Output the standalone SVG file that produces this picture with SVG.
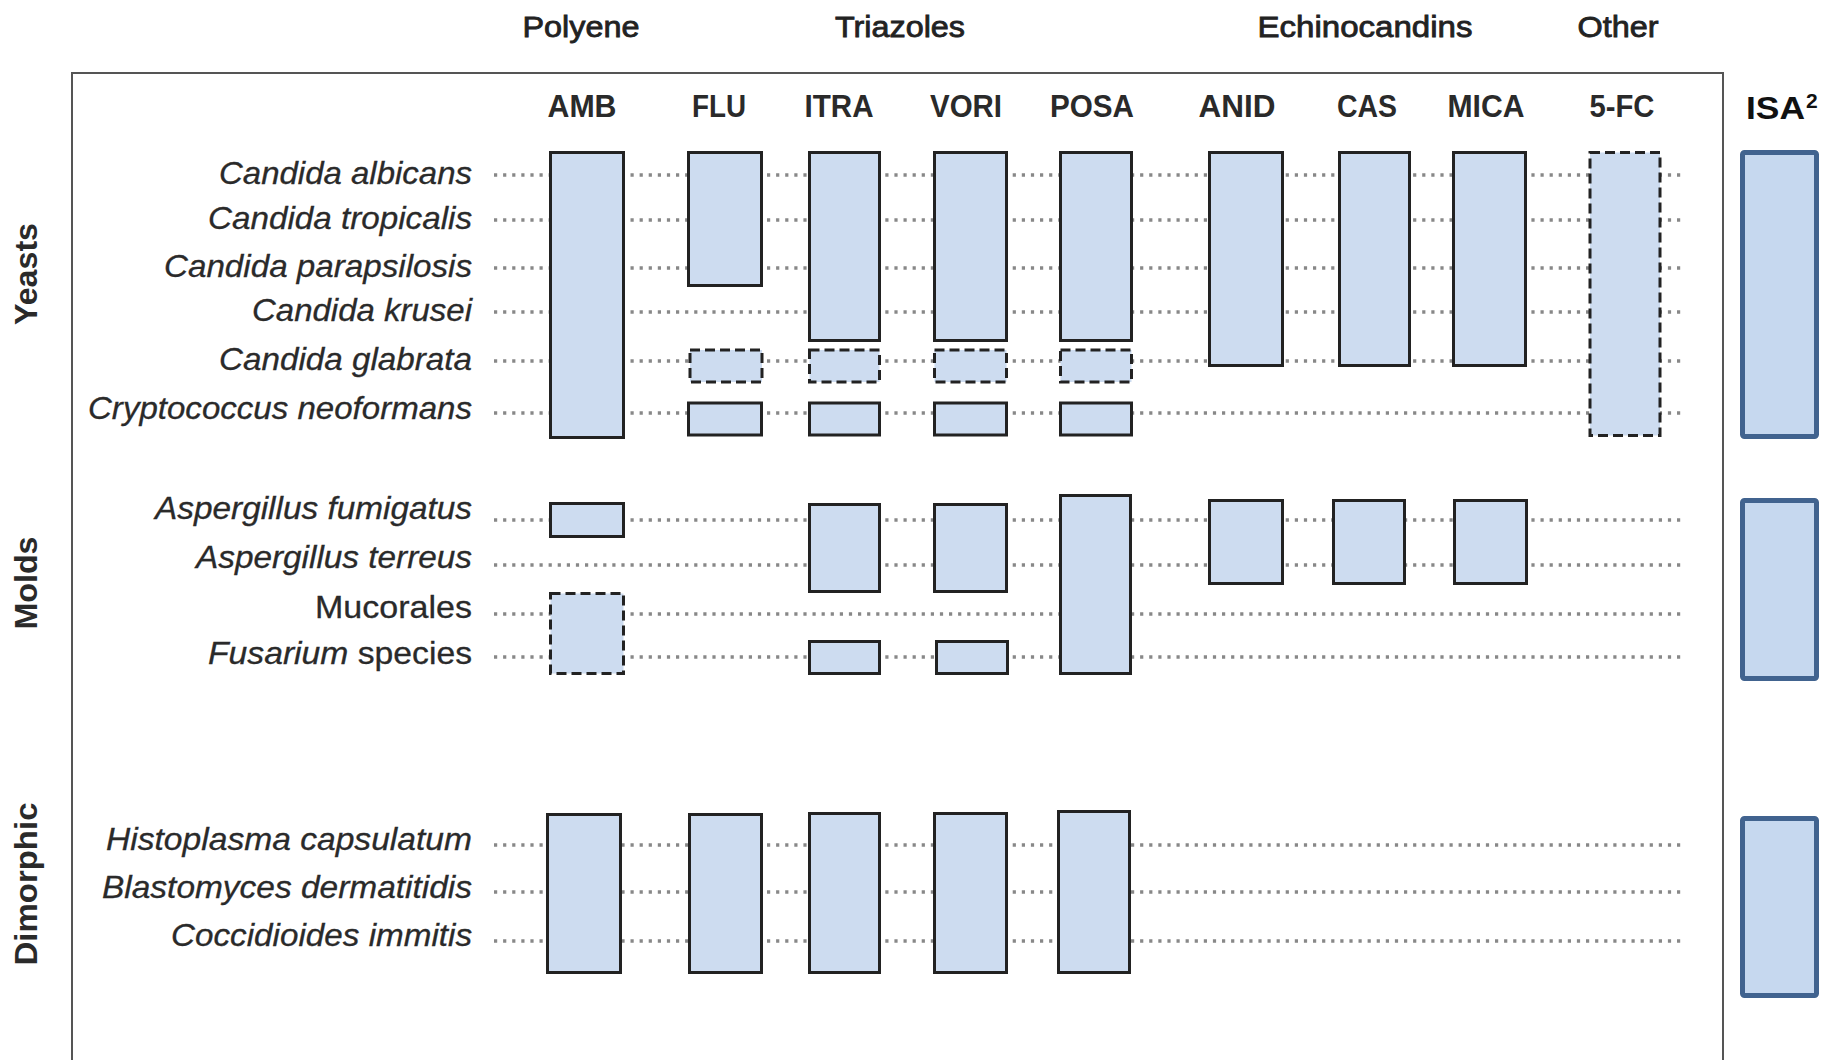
<svg xmlns="http://www.w3.org/2000/svg" width="1837" height="1060" viewBox="0 0 1837 1060">
<style>
text{font-family:"Liberation Sans",Arial,sans-serif;fill:#222}
.title{font-size:29px;text-anchor:middle;stroke:#222;stroke-width:0.8}
.hdr{font-size:31px;font-weight:bold;text-anchor:middle;fill:#2a2a2a}
.row{font-size:32px;font-style:italic;text-anchor:end;fill:#2a2a2a;stroke:#2a2a2a;stroke-width:0.3}
.reg{font-style:normal}
.grp{font-size:32px;font-weight:bold;text-anchor:middle;fill:#2a2a2a}
.dot{stroke:#888;stroke-width:3.5;stroke-dasharray:3.2 5.9;fill:none}
.bar{fill:#cddcf0;stroke:#222;stroke-width:3}
.dash{fill:#cddcf0;stroke:#222;stroke-width:3;stroke-dasharray:10 5}
.isa{fill:#c6d8ef;stroke:#41638f;stroke-width:5}
.frame{stroke:#555;stroke-width:2;fill:none}
</style>
<rect width="1837" height="1060" fill="#ffffff"/>
<g id="frame">
<path class="frame" d="M72,1060 V73 H1723 V1060"/>
</g>
<g id="class-titles">
<text class="title" x="581" y="37" textLength="117" lengthAdjust="spacingAndGlyphs">Polyene</text>
<text class="title" x="900" y="37" textLength="130" lengthAdjust="spacingAndGlyphs">Triazoles</text>
<text class="title" x="1365" y="37" textLength="215" lengthAdjust="spacingAndGlyphs">Echinocandins</text>
<text class="title" x="1618" y="37" textLength="81" lengthAdjust="spacingAndGlyphs">Other</text>
</g>
<g id="drug-headers">
<text class="hdr" x="582" y="117" textLength="69" lengthAdjust="spacingAndGlyphs">AMB</text>
<text class="hdr" x="719" y="117" textLength="54" lengthAdjust="spacingAndGlyphs">FLU</text>
<text class="hdr" x="839" y="117" textLength="69" lengthAdjust="spacingAndGlyphs">ITRA</text>
<text class="hdr" x="966" y="117" textLength="72" lengthAdjust="spacingAndGlyphs">VORI</text>
<text class="hdr" x="1092" y="117" textLength="84" lengthAdjust="spacingAndGlyphs">POSA</text>
<text class="hdr" x="1237" y="117" textLength="77" lengthAdjust="spacingAndGlyphs">ANID</text>
<text class="hdr" x="1367" y="117" textLength="60" lengthAdjust="spacingAndGlyphs">CAS</text>
<text class="hdr" x="1486" y="117" textLength="77" lengthAdjust="spacingAndGlyphs">MICA</text>
<text class="hdr" x="1622" y="117" textLength="65" lengthAdjust="spacingAndGlyphs">5-FC</text>
<text x="1746" y="119" style="font-size:32px;font-weight:bold;fill:#111" textLength="59" lengthAdjust="spacingAndGlyphs">ISA</text>
<text x="1806" y="108" style="font-size:21px;font-weight:bold;fill:#111">2</text>
</g>
<g id="group-labels">
<text class="grp" transform="translate(37,274) rotate(-90)" textLength="102" lengthAdjust="spacingAndGlyphs">Yeasts</text>
<text class="grp" transform="translate(37,583) rotate(-90)" textLength="93" lengthAdjust="spacingAndGlyphs">Molds</text>
<text class="grp" transform="translate(37,884) rotate(-90)" textLength="163" lengthAdjust="spacingAndGlyphs">Dimorphic</text>
</g>
<g id="connectors">
<path class="dot" d="M494,175H1686M494,220H1686M494,268H1686M494,312H1686M494,361H1686M494,413H1686"/>
<path class="dot" d="M494,520H1686M494,565H1686M494,614H1686M494,657H1686"/>
<path class="dot" d="M494,845H1686M494,892H1686M494,941H1686"/>
</g>
<g id="row-labels">
<text class="row" x="472" y="184" textLength="253" lengthAdjust="spacingAndGlyphs">Candida albicans</text>
<text class="row" x="472" y="229" textLength="264" lengthAdjust="spacingAndGlyphs">Candida tropicalis</text>
<text class="row" x="472" y="277" textLength="308" lengthAdjust="spacingAndGlyphs">Candida parapsilosis</text>
<text class="row" x="472" y="321" textLength="220" lengthAdjust="spacingAndGlyphs">Candida krusei</text>
<text class="row" x="472" y="370" textLength="253" lengthAdjust="spacingAndGlyphs">Candida glabrata</text>
<text class="row" x="472" y="419" textLength="384" lengthAdjust="spacingAndGlyphs">Cryptococcus neoformans</text>
<text class="row" x="472" y="519" textLength="317" lengthAdjust="spacingAndGlyphs">Aspergillus fumigatus</text>
<text class="row" x="472" y="568" textLength="276" lengthAdjust="spacingAndGlyphs">Aspergillus terreus</text>
<text class="row reg" x="472" y="618" textLength="157" lengthAdjust="spacingAndGlyphs">Mucorales</text>
<text class="row" x="472" y="664" textLength="264" lengthAdjust="spacingAndGlyphs">Fusarium<tspan class="reg"> species</tspan></text>
<text class="row" x="472" y="850" textLength="366" lengthAdjust="spacingAndGlyphs">Histoplasma capsulatum</text>
<text class="row" x="472" y="898" textLength="370" lengthAdjust="spacingAndGlyphs">Blastomyces dermatitidis</text>
<text class="row" x="472" y="946" textLength="301" lengthAdjust="spacingAndGlyphs">Coccidioides immitis</text>
</g>
<g id="yeasts-bars">
<rect class="bar" x="550.5" y="152.5" width="73" height="285"/>
<rect class="bar" x="688.5" y="152.5" width="73" height="133"/>
<rect class="dash" x="690" y="350" width="72" height="32"/>
<rect class="bar" x="688.5" y="403" width="73" height="32"/>
<rect class="bar" x="809.5" y="152.5" width="70" height="188"/>
<rect class="dash" x="809.5" y="350" width="70" height="32"/>
<rect class="bar" x="809.5" y="403" width="70" height="32"/>
<rect class="bar" x="934.5" y="152.5" width="72" height="188"/>
<rect class="dash" x="934.5" y="350" width="72" height="32"/>
<rect class="bar" x="934.5" y="403" width="72" height="32"/>
<rect class="bar" x="1060.5" y="152.5" width="71" height="188"/>
<rect class="dash" x="1060.5" y="350" width="71" height="32"/>
<rect class="bar" x="1060.5" y="403" width="71" height="32"/>
<rect class="bar" x="1209.5" y="152.5" width="73" height="213"/>
<rect class="bar" x="1339.5" y="152.5" width="70" height="213"/>
<rect class="bar" x="1453.5" y="152.5" width="72" height="213"/>
<rect class="dash" x="1590" y="152.5" width="70" height="283"/>
</g>
<g id="molds-bars">
<rect class="bar" x="550.5" y="503.5" width="73" height="33"/>
<rect class="dash" x="550.5" y="593.5" width="73" height="80"/>
<rect class="bar" x="809.5" y="504.5" width="70" height="87"/>
<rect class="bar" x="809.5" y="641.5" width="70" height="32"/>
<rect class="bar" x="934.5" y="504.5" width="72" height="87"/>
<rect class="bar" x="936.5" y="641.5" width="71" height="32"/>
<rect class="bar" x="1060.5" y="495.5" width="70" height="178"/>
<rect class="bar" x="1209.5" y="500.5" width="73" height="83"/>
<rect class="bar" x="1333.5" y="500.5" width="71" height="83"/>
<rect class="bar" x="1454.5" y="500.5" width="72" height="83"/>
</g>
<g id="dimorphic-bars">
<rect class="bar" x="547.5" y="814.5" width="73" height="158"/>
<rect class="bar" x="689.5" y="814.5" width="72" height="158"/>
<rect class="bar" x="809.5" y="813.5" width="70" height="159"/>
<rect class="bar" x="934.5" y="813.5" width="72" height="159"/>
<rect class="bar" x="1058.5" y="811.5" width="71" height="161"/>
</g>
<g id="isa-bars">
<rect class="isa" x="1742.5" y="152.5" width="74" height="284" rx="2"/>
<rect class="isa" x="1742.5" y="500.5" width="74" height="178" rx="2"/>
<rect class="isa" x="1742.5" y="818.5" width="74" height="177" rx="2"/>
</g>
</svg>
